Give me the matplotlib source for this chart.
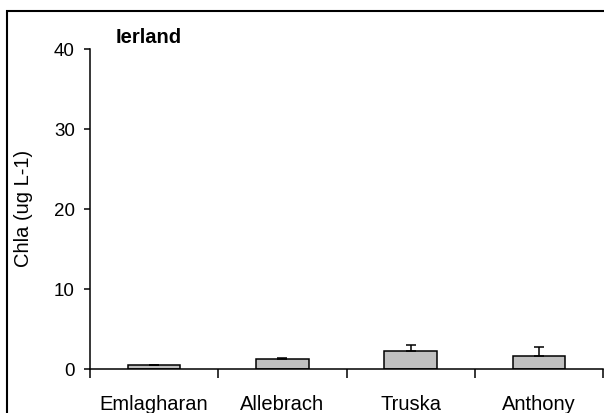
import matplotlib
matplotlib.use("Agg")
import matplotlib.pyplot as plt
import matplotlib.patches as patches
from matplotlib.ticker import FixedLocator, NullFormatter
import numpy as np

# Data
sites = ["Emlagharan", "Allebrach", "Truska", "Anthony"]
chla = [0.5, 1.2, 2.25, 1.67]
chla_err = [0.05, 0.15, 0.75, 1.08]
yticks = [0, 10, 20, 30, 40]

plt.rcParams['font.family'] = ['Liberation Sans', 'DejaVu Sans']

fig = plt.figure(figsize=(6.04, 4.14), dpi=100)
W, H = 604, 414

# outer chart border (cut off at right/bottom like the reference)
border = patches.Rectangle((7 / W, -0.05), 1.1, 1 - 12 / H + 0.05,
                           transform=fig.transFigure, fill=False,
                           edgecolor='black', linewidth=1.5)
fig.add_artist(border)

ax = fig.add_axes([90 / W, 1 - 370 / H, 513 / W, 320 / H])

x = np.arange(len(sites))
ax.bar(x, chla, width=0.41, color='#C0C0C0', edgecolor='black', linewidth=1.1,
       zorder=2)
ax.errorbar(x, chla, yerr=[np.zeros(len(chla)), chla_err], fmt='none',
            ecolor='black', elinewidth=1.1, capsize=3.3, capthick=1.1, zorder=3)

ax.set_xlim(-0.5, len(sites) - 0.5)
ax.set_ylim(0, 40)
ax.set_yticks(yticks)
ax.tick_params(axis='y', direction='out', length=4, width=1.1, pad=7,
               labelsize=13.5)

# tick marks at category boundaries, labels at centres
ax.xaxis.set_major_locator(FixedLocator(np.arange(-0.5, len(sites), 1.0)))
ax.xaxis.set_major_formatter(NullFormatter())
ax.xaxis.set_minor_locator(FixedLocator(x))
ax.set_xticklabels(sites, minor=True)
ax.tick_params(axis='x', which='major', direction='out', length=6.5, width=1.1)
ax.tick_params(axis='x', which='minor', length=0, pad=18, labelsize=14.5)

for s in ['top', 'right']:
    ax.spines[s].set_visible(False)
for s in ['left', 'bottom']:
    ax.spines[s].set_linewidth(1.1)
ax.spines['bottom'].set_clip_on(False)

ax.set_ylabel('Chla (ug L-1)', fontsize=14.5)
ax.yaxis.set_label_coords((33 - 90) / 513, (370 - 208) / 320)

fig.text(116 / W, 1 - 43 / H, 'Ierland', fontsize=14.5, fontweight='bold',
         va='baseline', ha='left')

fig.savefig('out.png', dpi=100)
